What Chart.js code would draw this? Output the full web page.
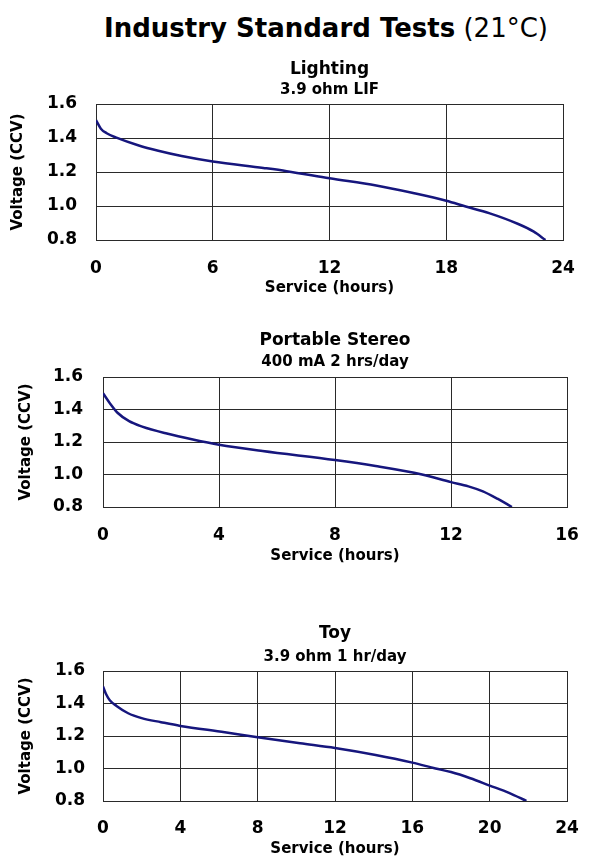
<!DOCTYPE html>
<html>
<head>
<meta charset="utf-8">
<script src="https://cdn.jsdelivr.net/npm/chart.js@4.4.1/dist/chart.umd.min.js"></script>
<style>
  body { margin: 0; background: #fff; width: 590px; height: 864px; overflow: hidden; position: relative; font-family: 'DejaVu Sans', Verdana, sans-serif; }
  #main-title { position: absolute; left: 104px; top: 15px; font-size: 26px; line-height: 26px; white-space: nowrap; color: #000; }
  #main-title b { font-weight: bold; }
  #main-title span { font-weight: normal; }
  canvas { position: absolute; left: 0; }
</style>
</head>
<body>
<div id="main-title"><b>Industry Standard Tests</b> <span>(21°C)</span></div>
<canvas id="lighting-chart" width="590" height="251" style="top:50px"></canvas>
<canvas id="stereo-chart" width="590" height="249" style="top:320px"></canvas>
<canvas id="toy-chart" width="590" height="252" style="top:610px"></canvas>
<script>
// values
const yTicks = [0.8, 1.0, 1.2, 1.4, 1.6];
const yTickLabels = ['0.8', '1.0', '1.2', '1.4', '1.6'];

const lightingTicks = [0, 6, 12, 18, 24];
const lightingHours = [0, 0.25, 0.55, 1.05, 2.2, 3.2, 4.4, 6, 8.6, 9.8, 12, 14.4, 16.3, 18, 19, 20.2, 21.7, 22.5, 23.1];
const lightingVolts = [1.505, 1.455, 1.428, 1.402, 1.356, 1.325, 1.294, 1.262, 1.224, 1.205, 1.163, 1.12, 1.076, 1.031, 0.997, 0.958, 0.894, 0.849, 0.8];

const stereoTicks = [0, 4, 8, 12, 16];
const stereoHours = [0, 0.23, 0.5, 0.9, 1.35, 2.2, 3.1, 4, 5.5, 8, 9.4, 11, 12, 12.6, 13.1, 13.6, 14.1];
const stereoVolts = [1.50, 1.44, 1.38, 1.328, 1.295, 1.252, 1.215, 1.183, 1.144, 1.089, 1.052, 1.0, 0.953, 0.927, 0.896, 0.851, 0.8];

const toyTicks = [0, 4, 8, 12, 16, 20, 24];
const toyHours = [0, 0.15, 0.35, 0.7, 1.3, 2.0, 3, 4, 6.3, 8, 10.2, 12, 14.1, 16, 17.2, 18, 19, 20, 21, 21.9];
const toyVolts = [1.505, 1.46, 1.42, 1.385, 1.34, 1.31, 1.285, 1.262, 1.223, 1.192, 1.155, 1.126, 1.083, 1.036, 1.0, 0.978, 0.94, 0.895, 0.85, 0.8];

Chart.defaults.font.family = "'DejaVu Sans', Verdana, sans-serif";
Chart.defaults.font.weight = 'bold';
Chart.defaults.color = '#000';

const lineColor = '#16167d';
const gridColor = '#2a2a2a';

function makeChart(id, title, subtitle, hours, volts, xTicks, lay) {
    const points = hours.map((h, i) => ({ x: h, y: volts[i] }));
    return new Chart(document.getElementById(id), {
        type: 'line',
        data: {
            datasets: [{
                data: points,
                borderColor: lineColor,
                borderWidth: 2.5,
                pointRadius: 0,
                fill: false,
                cubicInterpolationMode: 'monotone',
            }],
        },
        options: {
            responsive: false,
            animation: false,
            layout: { padding: { top: 0, left: 0, bottom: 0, right: lay.padRight } },
            plugins: {
                legend: { display: false },
                tooltip: { enabled: false },
                title: {
                    display: true,
                    text: title,
                    fullSize: false,
                    font: { size: 17, weight: 'bold' },
                    padding: { top: lay.titleTop, bottom: 0 },
                },
                subtitle: {
                    display: true,
                    text: subtitle,
                    fullSize: false,
                    color: '#000',
                    font: { size: 15, weight: 'bold' },
                    padding: { top: lay.subTop, bottom: lay.subBottom },
                },
            },
            scales: {
                x: {
                    type: 'linear',
                    min: xTicks[0],
                    max: xTicks[xTicks.length - 1],
                    afterBuildTicks: (scale) => { scale.ticks = xTicks.map((v) => ({ value: v })); },
                    afterFit: (scale) => { scale.height = lay.xHeight; },
                    grid: { color: gridColor, lineWidth: 1, drawTicks: true, tickLength: lay.xTickGap, tickColor: 'rgba(0,0,0,0)' },
                    border: { display: true, color: gridColor, width: 1 },
                    ticks: { padding: 0, maxRotation: 0, font: { size: 17, weight: 'bold' }, callback: (value) => String(value) },
                    title: { display: true, text: 'Service (hours)', font: { size: 15, weight: 'bold' }, padding: { top: 0, bottom: 4 } },
                },
                y: {
                    min: yTicks[0],
                    max: yTicks[yTicks.length - 1],
                    afterBuildTicks: (scale) => { scale.ticks = yTicks.map((v) => ({ value: v })); },
                    afterFit: (scale) => { scale.width = lay.yWidth; },
                    grid: { color: gridColor, lineWidth: 1, drawTicks: false },
                    border: { display: true, color: gridColor, width: 1 },
                    ticks: { padding: lay.yTickGap, font: { size: 17, weight: 'bold' }, callback: (value, index) => yTickLabels[index] },
                    title: { display: true, text: 'Voltage (CCV)', font: { size: 15, weight: 'bold' }, padding: { top: lay.yTitleTop, bottom: 0 } },
                },
            },
        },
    });
}

makeChart('lighting-chart', 'Lighting', '3.9 ohm LIF', lightingHours, lightingVolts, lightingTicks,
    { padRight: 27, titleTop: 9.3, subTop: 1.3, subBottom: 5, xHeight: 61, xTickGap: 18, yWidth: 96, yTickGap: 19, yTitleTop: 9 });
makeChart('stereo-chart', 'Portable Stereo', '400 mA 2 hrs/day', stereoHours, stereoVolts, stereoTicks,
    { padRight: 23, titleTop: 10.8, subTop: 1.8, subBottom: 6, xHeight: 62, xTickGap: 18, yWidth: 103, yTickGap: 20, yTitleTop: 17 });
makeChart('toy-chart', 'Toy', '3.9 ohm 1 hr/day', toyHours, toyVolts, toyTicks,
    { padRight: 23, titleTop: 13.8, subTop: 4.3, subBottom: 4.5, xHeight: 61, xTickGap: 17, yWidth: 103, yTickGap: 18, yTitleTop: 17 });
</script>
</body>
</html>
